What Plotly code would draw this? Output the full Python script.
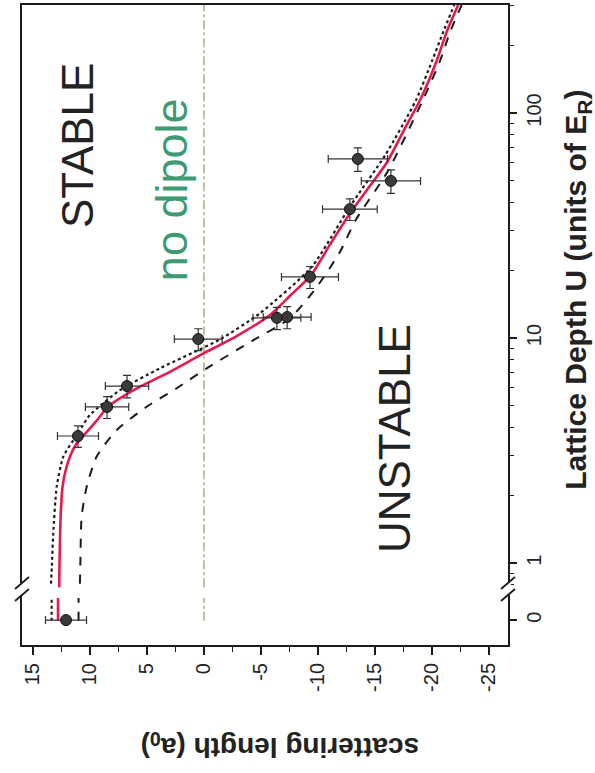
import plotly.graph_objects as go

# ---------------- data ----------------
# measured points: lattice depth U (E_R) and scattering length (a0)
DEPTH = [0, 3.67, 4.94, 6.12, 9.9, 12.3, 12.4, 18.7, 37.4, 62.5, 49.9]
DEPTH_ERR = [0, 0.4, 0.55, 0.7, 1.1, 1.4, 1.4, 2.1, 4.1, 7.5, 6.0]
SCAT = [12.1, 11.05, 8.5, 6.75, 0.5, -6.4, -7.3, -9.3, -12.8, -13.5, -16.4]
SCAT_ERR = [1.8, 1.8, 1.9, 1.9, 2.1, 2.1, 2.1, 2.5, 2.4, 2.6, 2.6]

# theory curve (solid red)
FIT_U = [0, 0.78, 1.0, 1.61, 2.2, 2.68, 3.1, 3.4, 3.77, 4.3, 4.92, 5.97, 7.08, 8.46,
         10.2, 12.66, 15.5, 19.05, 26, 35.8, 47, 59.8, 85, 114, 170, 230, 302]
FIT_A = [12.8, 12.7, 12.67, 12.57, 12.4, 12.05, 11.6, 11.17, 10.4, 9.4, 8.48, 5.9, 2.98, 0.2,
         -2.87, -5.8, -7.6, -9.4, -11.05, -12.8, -14.5, -16.0, -17.6, -18.95, -20.4, -21.3, -22.3]

# upper bound (dotted)
UP_U = [0, 0.81, 1.0, 1.355, 2.18, 2.97, 3.52, 4.0, 4.55, 5.87, 7.34, 9.86, 12.88,
        20.7, 38.4, 65, 114, 170, 230, 302]
UP_A = [13.36, 13.42, 13.33, 13.22, 12.92, 12.34, 11.46, 10.75, 10.0, 7.37, 3.86, -1.4, -4.9,
        -9.45, -12.8, -15.9, -18.6, -20.0, -21.0, -21.95]

# lower bound (dashed)
LO_U = [0, 0.81, 1.0, 1.61, 2.18, 2.97, 3.9, 4.95, 5.98, 7.33, 9.7, 12.24, 16.6, 24,
        33.4, 54.8, 114, 170, 230, 302]
LO_A = [11.0, 10.88, 10.84, 10.73, 10.29, 9.42, 7.66, 5.03, 2.4, -0.23, -4.2, -7.54, -9.8, -11.9,
        -13.3, -16.1, -19.2, -20.7, -21.6, -22.6]

# no-dipole reference (a = 0)
REF_U = [0, 0.78, 302]
REF_A = [0, 0, 0]

X_TICKS = [15, 10, 5, 0, -5, -10, -15, -20, -25]
X_TICK_TEXT = ["15", "10", "5", "0", "-5", "-10", "-15", "-20", "-25"]
Y_TICK_TEXT = ["0", "1", "10", "100"]

# ---------------- broken log axis helpers ----------------
ZERO_POS = 0.558          # where U = 0 sits below the axis break
STUB = (0.555, 0.70)      # vertical extent of the U = 0 section of the lines


def place(u):
    return [ZERO_POS if v == 0 else v for v in u]


RED = "#e8194e"
INK = "#1b1b1b"

fig = go.Figure()


def add_curve(us, aa, color, width, dash):
    # section at U = 0 (below the break)
    if us[0] == 0:
        fig.add_trace(go.Scatter(x=[aa[0], aa[0]], y=list(STUB), mode="lines",
                                 line=dict(color=color, width=width, dash=dash),
                                 hoverinfo="skip"))
        us, aa = us[1:], aa[1:]
    fig.add_trace(go.Scatter(x=aa, y=us, mode="lines",
                             line=dict(color=color, width=width, dash=dash, shape="spline",
                                       smoothing=0.6),
                             hoverinfo="skip"))


add_curve(REF_U, REF_A, "#a29e6a", 1.3, "dashdot")
add_curve(UP_U, UP_A, INK, 2.2, "dot")
add_curve(LO_U, LO_A, INK, 2.0, "dash")
add_curve(FIT_U, FIT_A, RED, 2.6, "solid")

fig.add_trace(go.Scatter(
    x=SCAT, y=place(DEPTH), mode="markers",
    marker=dict(size=11, color="#3a3a3a", line=dict(color="#111", width=1)),
    error_x=dict(type="data", array=SCAT_ERR, color="#333", thickness=1.2, width=4),
    error_y=dict(type="data", array=DEPTH_ERR, color="#333", thickness=1.2, width=4),
))

# ---------------- axis-break marks ----------------
BREAK_Y = 0.0875
for xa in (0, 1):
    fig.add_shape(type="rect", xref="paper", yref="paper", xsizemode="pixel", ysizemode="pixel",
                  xanchor=xa, yanchor=BREAK_Y, x0=-3, x1=3, y0=-6, y1=6,
                  fillcolor="white", line=dict(width=0), layer="above")
    for dy in (6, -6):
        fig.add_shape(type="line", xref="paper", yref="paper", xsizemode="pixel",
                      ysizemode="pixel", xanchor=xa, yanchor=BREAK_Y,
                      x0=-7, x1=7, y0=dy - 6, y1=dy + 6,
                      line=dict(color=INK, width=1.8), layer="above")

# ---------------- texts ----------------
FONT = "Liberation Sans, Arial, Helvetica, sans-serif"


def label(x, y, text, angle, size, color="#222"):
    fig.add_annotation(x=x, y=y, xref="paper", yref="paper", text=text, textangle=angle,
                       xanchor="center", yanchor="middle", showarrow=False,
                       font=dict(family=FONT, size=size, color=color))


label(0.113, 0.781, "STABLE", -90, 44)
label(0.309, 0.711, "no dipole", -90, 45, "#3d9a72")
label(0.765, 0.323, "UNSTABLE", -90, 44)
label(0.531, -0.156, "<b>scattering length (a<sub>0</sub>)</b>", 180, 28)
label(1.144, 0.555, "<b>Lattice Depth U (units of E<sub>R</sub>)</b>", -90, 30)

fig.update_layout(
    width=595, height=773,
    margin=dict(l=22, r=87, t=5, b=128, autoexpand=False),
    paper_bgcolor="white", plot_bgcolor="white",
    showlegend=False,
    font=dict(family=FONT, color="#222"),
    xaxis=dict(range=[15.96, -26.67], tickmode="array", tickvals=X_TICKS, ticktext=X_TICK_TEXT,
               tickangle=-90, ticks="outside", ticklen=8, tickwidth=1.5, tickcolor=INK,
               minor=dict(ticks="outside", ticklen=5, tickwidth=1.3, tickcolor=INK, dtick=2.5,
                          tick0=0),
               showline=True, linewidth=2, linecolor=INK, mirror=True, automargin=False,
               showgrid=False, zeroline=False, tickfont=dict(size=20, family=FONT)),
    yaxis=dict(type="log", range=[-0.364, 2.48], side="right", automargin=False,
               tickmode="array", tickvals=[ZERO_POS, 1, 10, 100], ticktext=Y_TICK_TEXT,
               tickangle=-90, ticks="outside", ticklen=7, tickwidth=1.5, tickcolor=INK,
               minor=dict(ticks="outside", ticklen=4, tickwidth=1.2, tickcolor=INK,
                          tickmode="array",
                          tickvals=[0.8, 0.9, 2, 3, 4, 5, 6, 7, 8, 9,
                                    20, 30, 40, 50, 60, 70, 80, 90, 200, 300]),
               showline=True, linewidth=2, linecolor=INK, mirror=True,
               showgrid=False, zeroline=False, tickfont=dict(size=20, family=FONT)),
)

fig.write_html("out.html", config={"displayModeBar": False},
               post_script="document.body.style.margin='0';document.body.style.overflow='hidden';")
